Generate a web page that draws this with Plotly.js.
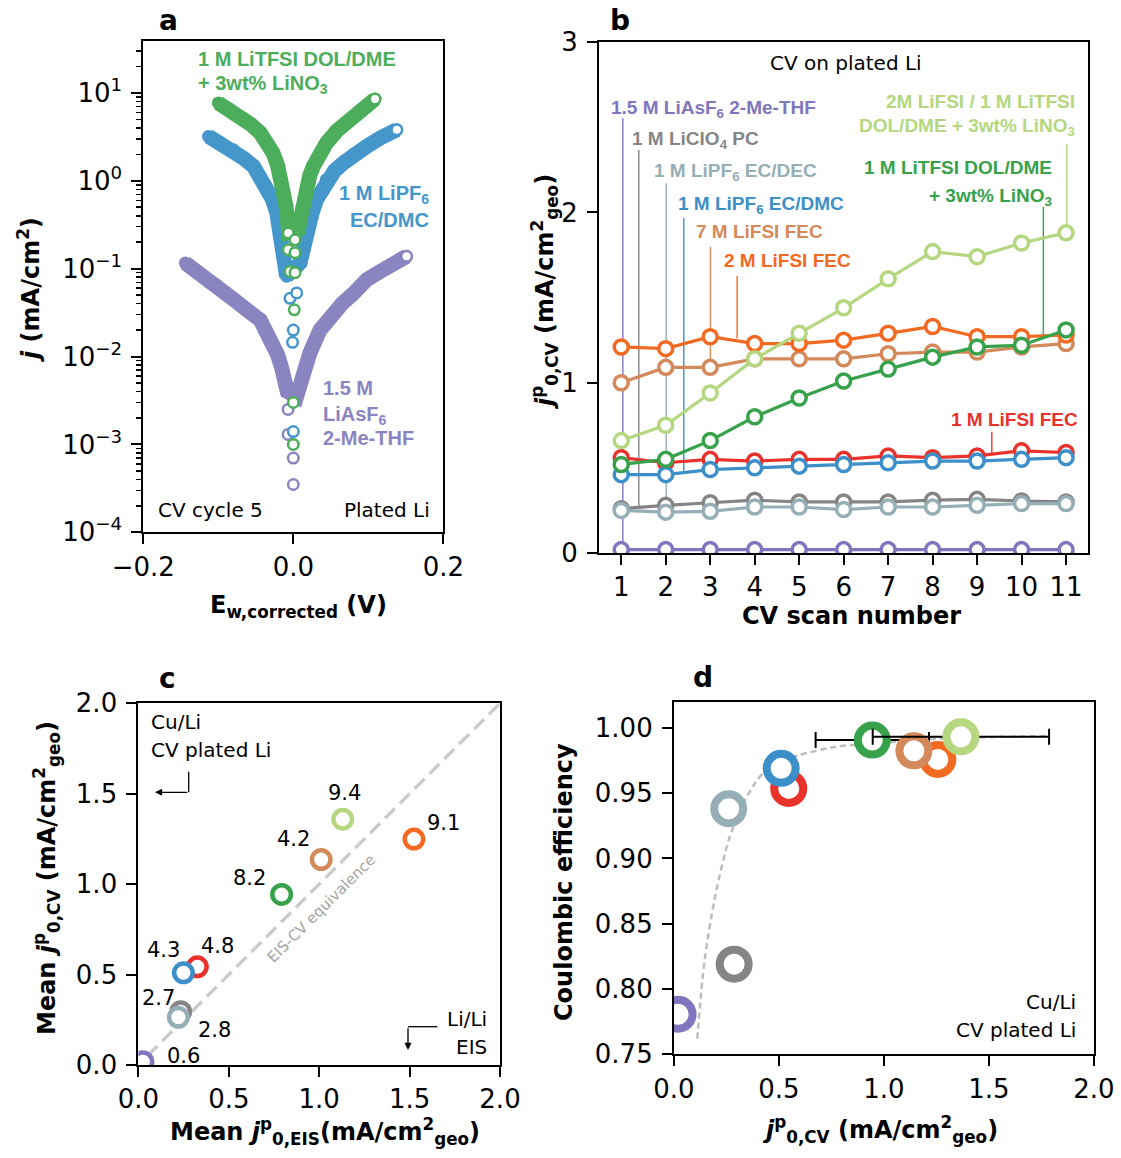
<!DOCTYPE html>
<html>
<head>
<meta charset="utf-8">
<script src="https://cdn.plot.ly/plotly-3.0.1.min.js"></script>
<style>
html,body{margin:0;padding:0;background:#fff;}
#chart{width:1121px;height:1158px;}
</style>
</head>
<body>
<div id="chart"></div>
<script>
// ================= Panel a : |j| vs E (CV cycle 5, plated Li) =================
const aPurpleBandE = [-0.144, -0.125, -0.102, -0.080, -0.062, -0.044, -0.036, -0.027, -0.021, -0.016, -0.0125, -0.0098, -0.008, 0.0045, 0.0067, 0.0133, 0.0222, 0.0356, 0.050, 0.065, 0.080, 0.098, 0.115, 0.133, 0.151];
const aPurpleBandJ = [0.116, 0.090, 0.065, 0.045, 0.034, 0.026, 0.019, 0.014, 0.0105, 0.0077, 0.0060, 0.0048, 0.0040, 0.0035, 0.0042, 0.0065, 0.011, 0.020, 0.029, 0.040, 0.052, 0.075, 0.092, 0.113, 0.138];
const aPurpleRingE = [-0.007, -0.007, 0.0, 0.0, 0.151];
const aPurpleRingJ = [0.0025, 0.0013, 0.0007, 0.00035, 0.138];

const aBlueBandE = [-0.113, -0.097, -0.080, -0.066, -0.053, -0.044, -0.036, -0.028, -0.022, -0.016, -0.011, -0.0089, 0.0089, 0.0133, 0.020, 0.025, 0.031, 0.038, 0.044, 0.055, 0.067, 0.080, 0.098, 0.117, 0.138];
const aBlueBandJ = [3.2, 2.7, 2.26, 1.8, 1.46, 1.12, 0.86, 0.62, 0.43, 0.21, 0.116, 0.082, 0.116, 0.18, 0.30, 0.43, 0.61, 0.80, 1.03, 1.30, 1.60, 2.0, 2.47, 3.1, 3.8];
const aBlueRingE = [-0.0044, 0.0045, 0.0, -0.001, 0.0, 0.138];
const aBlueRingJ = [0.046, 0.053, 0.020, 0.0145, 0.0014, 3.8];

const aGreenBandE = [-0.100, -0.085, -0.071, -0.057, -0.044, -0.035, -0.027, -0.021, -0.0155, -0.0125, -0.0097, -0.008, -0.0062, 0.0067, 0.0089, 0.0111, 0.0145, 0.0178, 0.022, 0.0267, 0.035, 0.0444, 0.058, 0.0756, 0.092, 0.109];
const aGreenBandJ = [7.7, 6.5, 5.4, 4.4, 3.5, 2.7, 2.07, 1.5, 1.02, 0.72, 0.51, 0.37, 0.26, 0.28, 0.36, 0.47, 0.65, 0.86, 1.15, 1.46, 2.0, 2.7, 3.7, 4.97, 6.5, 8.5];
const aGreenRingE = [-0.0067, 0.0023, -0.0067, 0.0023, -0.0044, 0.0023, 0.0013, 0.0, 0.0, 0.109];
const aGreenRingJ = [0.254, 0.213, 0.164, 0.152, 0.093, 0.090, 0.034, 0.0030, 0.0010, 8.5];

const aXTickVals = [-0.2, 0.0, 0.2];
const aXTickText = ['\u22120.2', '0.0', '0.2'];
const aYTickVals = [1e-4, 1e-3, 1e-2, 1e-1, 1, 10];
const aYTickText = ['10<sup>\u22124</sup>', '10<sup>\u22123</sup>', '10<sup>\u22122</sup>', '10<sup>\u22121</sup>', '10<sup>0</sup>', '10<sup>1</sup>'];

// ================= Panel b : j0,CV vs scan number =================
const bScan = [1, 2, 3, 4, 5, 6, 7, 8, 9, 10, 11];
const bPurple    = [0.02, 0.02, 0.02, 0.02, 0.02, 0.02, 0.02, 0.02, 0.02, 0.02, 0.02];
const bGray      = [0.26, 0.28, 0.295, 0.31, 0.30, 0.30, 0.30, 0.31, 0.315, 0.305, 0.30];
const bBlueGray  = [0.25, 0.24, 0.245, 0.27, 0.27, 0.255, 0.27, 0.27, 0.28, 0.29, 0.29];
const bRed       = [0.56, 0.53, 0.55, 0.54, 0.55, 0.55, 0.57, 0.56, 0.57, 0.60, 0.59];
const bBlue      = [0.46, 0.46, 0.49, 0.50, 0.51, 0.52, 0.53, 0.54, 0.54, 0.55, 0.56];
const bTan       = [1.00, 1.09, 1.09, 1.14, 1.14, 1.14, 1.17, 1.18, 1.18, 1.21, 1.23];
const bOrange    = [1.21, 1.20, 1.27, 1.23, 1.23, 1.25, 1.29, 1.33, 1.27, 1.27, 1.28];
const bDarkGreen = [0.52, 0.55, 0.66, 0.80, 0.91, 1.01, 1.08, 1.15, 1.21, 1.22, 1.31];
const bLightGreen= [0.66, 0.75, 0.94, 1.14, 1.29, 1.44, 1.61, 1.77, 1.74, 1.82, 1.88];

// ================= Panel c : mean j0 CV vs EIS =================
const cNames  = ['purple', 'gray', 'blueGray', 'red', 'blue', 'darkGreen', 'tan', 'orange', 'lightGreen'];
const cEIS    = [0.025, 0.234, 0.221, 0.326, 0.249, 0.792, 1.011, 1.524, 1.130];
const cCV     = [0.018, 0.295, 0.264, 0.543, 0.510, 0.943, 1.136, 1.249, 1.359];
const cLabels = ['0.6', '2.7', '2.8', '4.8', '4.3', '8.2', '4.2', '9.1', '9.4'];
const cDiagX  = [0.05, 2.0];
const cDiagY  = [0.05, 2.0];

// ================= Panel d : Coulombic efficiency vs j0,CV =================
const dNames = ['purple', 'gray', 'blueGray', 'red', 'blue', 'darkGreen', 'orange', 'tan', 'lightGreen'];
const dJ     = [0.02, 0.287, 0.261, 0.547, 0.511, 0.945, 1.257, 1.143, 1.367];
const dCE    = [0.7807, 0.819, 0.938, 0.9536, 0.969, 0.9906, 0.9758, 0.9824, 0.9931];
const dErr   = [0, 0, 0, 0, 0, 0.27, 0, 0, 0.42];
const dFitJ  = [0.111, 0.146, 0.199, 0.261, 0.323, 0.384, 0.455, 0.596, 0.772, 0.949, 1.302, 1.786];
const dFitCE = [0.762, 0.822, 0.873, 0.914, 0.9395, 0.957, 0.970, 0.979, 0.9855, 0.988, 0.992, 0.9937];

// ================= styling =================
const W = 1121, H = 1158;
const px = v => v / W, py = v => 1 - v / H;
const colA = {purple: '#8a85c1', blue: '#4596cb', green: '#4cae5c'};
const col = {purple: '#8076be', gray: '#858585', blueGray: '#96aeb6', red: '#e8322b', blue: '#3d8fca',
             darkGreen: '#37a24b', tan: '#d4895a', orange: '#f26a22', lightGreen: '#b4d77f'};
const TICKFONT = {family: 'DejaVu Sans', size: 26, color: 'black'};
const LABFONT = 'Liberation Sans, Arial, sans-serif';

const traces = [];
// panel a
function band(E, J, c) {
  return {type: 'scatter', mode: 'lines+markers', x: E, y: J, xaxis: 'x', yaxis: 'y',
          line: {color: c, width: 15}, marker: {size: 13, color: c}, hoverinfo: 'skip'};
}
function rings(E, J, c) {
  return {type: 'scatter', mode: 'markers', x: E, y: J, xaxis: 'x', yaxis: 'y',
          marker: {symbol: 'circle', size: 10.5, color: 'white', line: {color: c, width: 2.5}}, hoverinfo: 'skip'};
}
traces.push(band(aPurpleBandE, aPurpleBandJ, colA.purple), rings(aPurpleRingE, aPurpleRingJ, colA.purple));
traces.push(band(aBlueBandE, aBlueBandJ, colA.blue), rings(aBlueRingE, aBlueRingJ, colA.blue));
traces.push(band(aGreenBandE, aGreenBandJ, colA.green), rings(aGreenRingE, aGreenRingJ, colA.green));

// panel b
const bSeries = [['purple', bPurple], ['gray', bGray], ['blueGray', bBlueGray], ['red', bRed], ['blue', bBlue],
                 ['tan', bTan], ['orange', bOrange], ['darkGreen', bDarkGreen], ['lightGreen', bLightGreen]];
bSeries.forEach(([k, v]) => traces.push({type: 'scatter', mode: 'lines+markers', x: bScan, y: v, xaxis: 'x2', yaxis: 'y2',
  line: {color: col[k], width: 3.2}, marker: {size: 14, color: 'white', line: {color: col[k], width: 3.5}}, hoverinfo: 'skip'}));

// panel c
traces.push({type: 'scatter', mode: 'lines', x: cDiagX, y: cDiagY, xaxis: 'x3', yaxis: 'y3',
  line: {color: '#cccccc', width: 3.5, dash: '14px,7px'}, hoverinfo: 'skip'});
traces.push({type: 'scatter', mode: 'markers', x: cEIS, y: cCV, xaxis: 'x3', yaxis: 'y3',
  marker: {size: 18.5, color: 'white', line: {color: cNames.map(k => col[k]), width: 4.5}}, hoverinfo: 'skip'});

// panel d
traces.push({type: 'scatter', mode: 'lines', x: dFitJ, y: dFitCE, xaxis: 'x4', yaxis: 'y4',
  line: {color: '#bdbdbd', width: 2.5, dash: '6px,4px', shape: 'spline', smoothing: 0.8}, hoverinfo: 'skip'});
dNames.forEach((k, i) => traces.push({type: 'scatter', mode: 'markers', x: [dJ[i]], y: [dCE[i]], xaxis: 'x4', yaxis: 'y4',
  marker: {size: 29, color: 'white', line: {color: col[k], width: 8}},
  error_x: {type: 'data', array: [dErr[i]], visible: dErr[i] > 0, color: 'black', thickness: 2, width: 8},
  hoverinfo: 'skip'}));

// ================= axes =================
function ax(extra) {
  return Object.assign({showline: true, mirror: true, linecolor: 'black', linewidth: 2,
    ticks: 'outside', ticklen: 10, tickwidth: 2, tickcolor: 'black', showgrid: false, zeroline: false,
    tickfont: TICKFONT, ticklabelstandoff: 4, fixedrange: true}, extra);
}
function axX(extra) { return ax(Object.assign({ticklabelstandoff: 0}, extra)); }
const minorA = [];
aYTickVals.forEach(d => { for (let m = 2; m <= 9; m++) if (d * m < 39) minorA.push(d * m); });

const layout = {
  width: W, height: H, margin: {l: 0, r: 0, t: 0, b: 0}, showlegend: false,
  paper_bgcolor: 'white', plot_bgcolor: 'white',
  xaxis: axX({domain: [px(143.3), px(443.3)], range: [-0.2, 0.2], tickmode: 'array', tickvals: aXTickVals, ticktext: aXTickText, anchor: 'y'}),
  yaxis: ax({domain: [py(532.3), py(40.7)], type: 'log', range: [-4, 1.594], tickmode: 'array', tickvals: aYTickVals, ticktext: aYTickText, anchor: 'x',
             minor: {tickmode: 'array', tickvals: minorA, ticks: 'outside', ticklen: 5, tickwidth: 1.5, tickcolor: 'black', showgrid: false}}),
  xaxis2: axX({domain: [px(599), px(1088.3)], range: [0.5, 11.5], tickmode: 'linear', tick0: 1, dtick: 1, anchor: 'y2'}),
  yaxis2: ax({domain: [py(553), py(42.1)], range: [0, 3], tickmode: 'linear', tick0: 0, dtick: 1, anchor: 'x2'}),
  xaxis3: axX({domain: [px(138.4), px(500)], range: [0, 2], tickmode: 'linear', tick0: 0, dtick: 0.5, tickformat: '.1f', anchor: 'y3'}),
  yaxis3: ax({domain: [py(1065), py(703.3)], range: [0, 2], tickmode: 'linear', tick0: 0, dtick: 0.5, tickformat: '.1f', anchor: 'x3'}),
  xaxis4: axX({domain: [px(673.9), px(1093.8)], range: [0, 2], tickmode: 'linear', tick0: 0, dtick: 0.5, tickformat: '.1f', anchor: 'y4'}),
  yaxis4: ax({domain: [py(1054.3), py(701.7)], range: [0.75, 1.02], tickmode: 'linear', tick0: 0.75, dtick: 0.05, tickformat: '.2f', anchor: 'x4'}),
  shapes: [], annotations: []
};

function txt(t, x, y, o) {
  o = o || {};
  layout.annotations.push({xref: 'paper', yref: 'paper', x: px(x), y: py(y), text: t, showarrow: false,
    xanchor: o.xa || 'center', yanchor: 'middle', textangle: o.ang || 0,
    font: {family: o.fam || LABFONT, size: o.size || 19, color: o.color || 'black'}});
}
const BOLD = 'DejaVu Sans';

// panel letters
txt('<b>a</b>', 168.5, 20, {fam: BOLD, size: 28});
txt('<b>b</b>', 620, 20, {fam: BOLD, size: 28});
txt('<b>c</b>', 167, 678, {fam: BOLD, size: 28});
txt('<b>d</b>', 703, 677, {fam: BOLD, size: 28});

// axis titles
txt('<b><i>j</i> (mA/cm<sup>2</sup>)</b>', 29, 290, {fam: BOLD, size: 24, ang: -90});
txt('<b>E<sub>w,corrected</sub> (V)</b>', 298, 606, {fam: BOLD, size: 24});
txt('<b><i>j</i><sup>p</sup><sub>0,CV</sub> (mA/cm<sup>2</sup><sub>geo</sub>)</b>', 545, 292, {fam: BOLD, size: 24, ang: -90});
txt('<b>CV scan number</b>', 851, 616, {fam: BOLD, size: 24});
txt('<b>Mean <i>j</i><sup>p</sup><sub>0,CV</sub> (mA/cm<sup>2</sup><sub>geo</sub>)</b>', 46, 878, {fam: BOLD, size: 24, ang: -90});
txt('<b>Mean <i>j</i><sup>p</sup><sub>0,EIS</sub>(mA/cm<sup>2</sup><sub>geo</sub>)</b>', 325, 1131, {fam: BOLD, size: 24});
txt('<b>Coulombic efficiency</b>', 564, 882, {fam: BOLD, size: 24, ang: -90});
txt('<b><i>j</i><sup>p</sup><sub>0,CV</sub> (mA/cm<sup>2</sup><sub>geo</sub>)</b>', 880, 1129, {fam: BOLD, size: 24});

// panel a labels
txt('<b>1 M LiTFSI DOL/DME</b>', 196, 59, {xa: 'left', color: colA.green, size: 20});
txt('<b>+ 3wt% LiNO<sub>3</sub></b>', 196, 85, {xa: 'left', color: colA.green, size: 20});
txt('<b>1 M LiPF<sub>6</sub></b>', 431, 194, {xa: 'right', color: colA.blue, size: 20});
txt('<b>EC/DMC</b>', 431, 220, {xa: 'right', color: colA.blue, size: 20});
txt('<b>1.5 M</b>', 321, 388, {xa: 'left', color: colA.purple, size: 20});
txt('<b>LiAsF<sub>6</sub></b>', 321, 415, {xa: 'left', color: colA.purple, size: 20});
txt('<b>2-Me-THF</b>', 321, 438, {xa: 'left', color: colA.purple, size: 20});
txt('CV cycle 5', 156, 510, {xa: 'left', fam: 'DejaVu Sans', size: 20});
txt('Plated Li', 432, 510, {xa: 'right', fam: 'DejaVu Sans', size: 20});

// panel b labels + leader lines
const bLabels = [
  ['purple', '1.5 M LiAsF<sub>6</sub> 2-Me-THF', 609, 109, 'left'],
  ['gray', '1 M LiClO<sub>4</sub> PC', 630, 140, 'left'],
  ['blueGray', '1 M LiPF<sub>6</sub> EC/DEC', 652, 172, 'left'],
  ['blue', '1 M LiPF<sub>6</sub> EC/DMC', 676, 205, 'left'],
  ['tan', '7 M LiFSI FEC', 694, 232, 'left'],
  ['orange', '2 M LiFSI FEC', 722, 260, 'left'],
  ['red', '1 M LiFSI FEC', 1080, 420, 'right'],
  ['darkGreen', '1 M LiTFSI DOL/DME', 1054, 168, 'right'],
  ['darkGreen', '+ 3wt% LiNO<sub>3</sub>', 1054, 197, 'right'],
  ['lightGreen', '2M LiFSI / 1 M LiTFSI', 1077, 102, 'right'],
  ['lightGreen', 'DOL/DME + 3wt% LiNO<sub>3</sub>', 1077, 127, 'right']
];
bLabels.forEach(([k, t, x, y, a]) => txt('<b>' + t + '</b>', x, y, {xa: a, color: col[k]}));
txt('CV on plated Li', 846, 63, {fam: 'DejaVu Sans', size: 20});
const bLeaders = [
  ['purple', 1.036, 0.03, 2.553], ['gray', 1.395, 0.262, 2.366], ['blueGray', 2.011, 0.24, 2.171],
  ['blue', 2.406, 0.483, 1.965], ['tan', 3.005, 1.094, 1.799], ['orange', 3.605, 1.261, 1.627],
  ['red', 9.331, 0.575, 0.712], ['darkGreen', 10.49, 1.28, 2.033], ['lightGreen', 11.016, 1.926, 2.402]
];
bLeaders.forEach(([k, x, y0, y1]) => layout.shapes.push({type: 'line', xref: 'x2', yref: 'y2', x0: x, x1: x, y0: y0, y1: y1,
  layer: 'below', line: {color: col[k], width: 1.4}}));

// panel c labels
const cShift = [[41, -6], [-22, -14], [36, 13], [20, -21], [-20, -23], [-32, -16], [-28, -21], [30, -16], [2, -26]];
cLabels.forEach((t, i) => layout.annotations.push({xref: 'x3', yref: 'y3', x: cEIS[i], y: cCV[i], text: t, showarrow: false,
  xshift: cShift[i][0], yshift: -cShift[i][1], font: {family: 'DejaVu Sans', size: 21, color: 'black'}}));
txt('Cu/Li', 149, 722, {xa: 'left', fam: 'DejaVu Sans', size: 20});
txt('CV plated Li', 149, 750, {xa: 'left', fam: 'DejaVu Sans', size: 20});
txt('Li/Li', 489, 1019, {xa: 'right', fam: 'DejaVu Sans', size: 20});
txt('EIS', 489, 1047, {xa: 'right', fam: 'DejaVu Sans', size: 20});
txt('EIS-CV equivalence', 321, 909, {fam: 'DejaVu Sans', size: 15, color: '#a3a3a3', ang: -45});
// elbow arrows
layout.shapes.push({type: 'line', xref: 'paper', yref: 'paper', x0: px(188.7), x1: px(188.7), y0: py(771.7), y1: py(792.3), line: {color: 'black', width: 1.3}});
layout.annotations.push({xref: 'paper', yref: 'paper', x: px(155), y: py(792.3), ax: 33.7, ay: 0, axref: 'pixel', ayref: 'pixel', text: '',
  showarrow: true, arrowhead: 2, arrowsize: 1.1, arrowwidth: 1.3, arrowcolor: 'black', standoff: 0, startstandoff: 0});
layout.shapes.push({type: 'line', xref: 'paper', yref: 'paper', x0: px(437.3), x1: px(408), y0: py(1026.7), y1: py(1026.7), line: {color: 'black', width: 1.3}});
layout.annotations.push({xref: 'paper', yref: 'paper', x: px(408), y: py(1050), ax: 0, ay: -23.3, axref: 'pixel', ayref: 'pixel', text: '',
  showarrow: true, arrowhead: 2, arrowsize: 1.1, arrowwidth: 1.3, arrowcolor: 'black', standoff: 0, startstandoff: 0});

// panel d labels
txt('Cu/Li', 1078, 1002, {xa: 'right', fam: 'DejaVu Sans', size: 20});
txt('CV plated Li', 1078, 1030, {xa: 'right', fam: 'DejaVu Sans', size: 20});

Plotly.newPlot('chart', traces, layout, {staticPlot: true, displayModeBar: false});
</script>
</body>
</html>
